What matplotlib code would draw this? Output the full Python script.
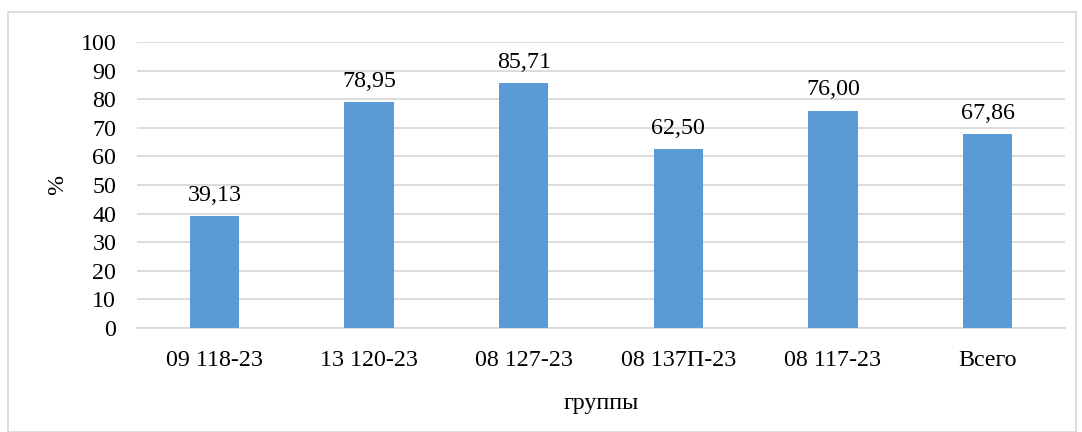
import matplotlib
matplotlib.use("Agg")
import matplotlib.pyplot as plt
from matplotlib.patches import Rectangle

categories = ["09 118-23", "13 120-23", "08 127-23", "08 137П-23", "08 117-23", "Всего"]
values = [39.13, 78.95, 85.71, 62.50, 76.00, 67.86]
yticks = [0, 10, 20, 30, 40, 50, 60, 70, 80, 90, 100]

plt.rcParams['font.family'] = ['Liberation Serif', 'DejaVu Serif']
FS = 17.3

fig = plt.figure(figsize=(10.82, 4.32), dpi=100)
ax = fig.add_axes([137/1082, 1 - 328/432, (1065-137)/1082, (328-42)/432])

x = list(range(len(categories)))
bars = ax.bar(x, values, width=0.317, color="#5B9BD5", zorder=3)
for xi, v in zip(x, values):
    ax.text(xi, v + 3.6, f"{v:.2f}".replace(".", ","), ha="center", va="bottom", fontsize=FS, color="#000000")

ax.set_xlim(-0.5, len(categories) - 0.5)
ax.set_ylim(0, 100)
ax.set_yticks(yticks)
ax.set_yticklabels([str(t) for t in yticks], fontsize=FS)
ax.set_xticks(x)
ax.set_xticklabels(categories, fontsize=FS)
ax.tick_params(axis="y", length=0, pad=15)
ax.tick_params(axis="x", length=0, pad=16)
ax.yaxis.grid(True, color="#D9D9D9", linewidth=1.3, zorder=0)
ax.set_axisbelow(True)
for s in ["top", "right", "left"]:
    ax.spines[s].set_visible(False)
ax.spines["bottom"].set_color("#D9D9D9")
ax.spines["bottom"].set_linewidth(1.3)

ax.set_xlabel("группы", fontsize=FS, labelpad=16)
ax.set_ylabel("%", fontsize=FS)
ax.yaxis.set_label_coords((68 - 137) / 928, 0.5)

fig.patches.append(Rectangle((8/1082, 0.0), (1076-8)/1082, 1 - 12/432 - 0.0, transform=fig.transFigure,
                             fill=False, edgecolor="#D9D9D9", linewidth=1.3))

fig.savefig("out.png", dpi=100)
